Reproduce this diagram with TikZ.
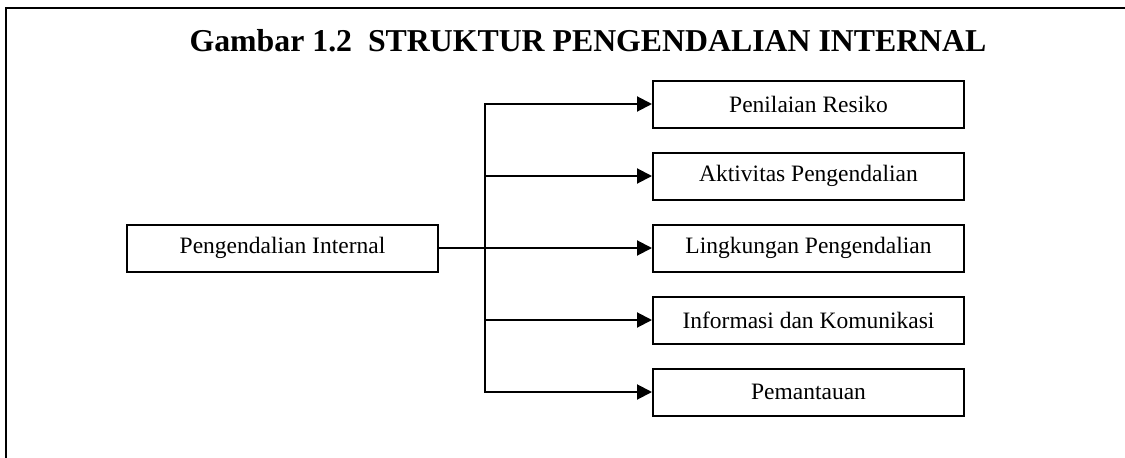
\documentclass[tikz,border=0pt]{standalone}
\usepackage{fontspec}
\setmainfont{Liberation Serif}
\usetikzlibrary{arrows.meta, positioning}

\begin{document}
\begin{tikzpicture}[
    x=1pt, y=-1pt,
    font=\fontsize{23.5}{28}\selectfont,
    node distance=23pt,
    >={Triangle[length=15pt,width=15pt]},
    block/.style={
        rectangle,
        draw=black,
        line width=2pt,
        align=center,
        minimum width=311pt,
        minimum height=47pt,
        inner sep=2pt
    },
    arrow/.style={->, line width=2pt}
]
\useasboundingbox (0,0) rectangle (1125,458);

% Frame
\draw [line width=2.5pt] (6,458) -- (6,8) -- (1125,8);

% Title
\node (title) at (588,41) {\fontsize{31.8}{36}\selectfont\bfseries Gambar 1.2\ \ STRUKTUR PENGENDALIAN INTERNAL};

% Nodes
\node (pi) [block] at (282.5,248) {Pengendalian Internal};

\node (ling) [block, right=213pt of pi] {Lingkungan Pengendalian};
\node (akt) [block, above=of ling] {Aktivitas Pengendalian};
\node (pen) [block, above=of akt] {Penilaian Resiko};
\node (info) [block, below=of ling] {Informasi dan Komunikasi};
\node (pan) [block, below=of info] {Pemantauan};

\coordinate (split) at ([xshift=46pt]pi.east);

% Arrows
\draw [arrow] (pi) -- (ling);
\draw [arrow] (pi.east) -- (split) |- (pen);
\draw [arrow] (pi.east) -- (split) |- (akt);
\draw [arrow] (pi.east) -- (split) |- (info);
\draw [arrow] (pi.east) -- (split) |- (pan);

\end{tikzpicture}
\end{document}
